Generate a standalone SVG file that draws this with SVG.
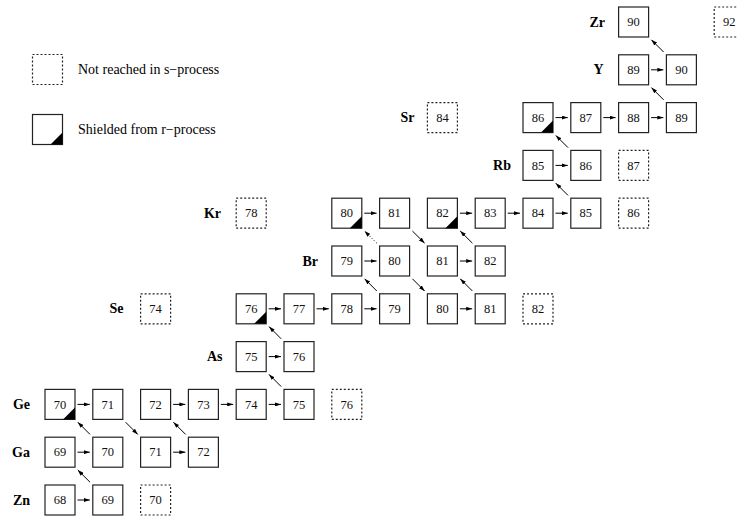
<svg xmlns="http://www.w3.org/2000/svg" width="737" height="519" viewBox="0 0 737 519">
<style>
.b{fill:#fff;stroke:#222;stroke-width:1.2}
.d{fill:#fff;stroke:#222;stroke-width:1.2;stroke-dasharray:2,2}
.n{font-family:"Liberation Serif","Times New Roman",serif;font-size:12.5px;text-anchor:middle;fill:#111}
.l{font-family:"Liberation Serif","Times New Roman",serif;font-size:14px;font-weight:bold;text-anchor:end;fill:#000}
.t{font-family:"Liberation Serif","Times New Roman",serif;font-size:14px;fill:#000}
.s{fill:#000}
.c line{stroke:#000;stroke-width:1;marker-end:url(#ah)}
.c line.dot{stroke-dasharray:1,2}
</style>
<defs>
<marker id="ah" viewBox="0 0 6 4" refX="6" refY="2" markerWidth="6" markerHeight="4" markerUnits="userSpaceOnUse" orient="auto"><path d="M0,0 L6,2 L0,4 Z" fill="#000"/></marker>
<g id="box"><rect class="b" x="0" y="0" width="30" height="30"/></g>
<g id="dbox"><rect class="d" x="0" y="0" width="30" height="30"/></g>
<g id="sbox"><rect class="b" x="0" y="0" width="30" height="30"/><path class="s" d="M30,18 L30,30 L18,30 Z"/></g>
</defs>

<g id="legend">
<rect class="d" x="32.5" y="54.5" width="30" height="30"/>
<text class="t" x="78" y="73.5">Not reached in s−process</text>
<rect class="b" x="32.5" y="114.5" width="30" height="30"/>
<path class="s" d="M62.5,132.5 L62.5,144.5 L50.5,144.5 Z"/>
<text class="t" x="78" y="133.5">Shielded from r−process</text>
</g>

<g id="labels">
<text class="l" x="30" y="504.5">Zn</text>
<text class="l" x="30" y="456.7">Ga</text>
<text class="l" x="30" y="408.9">Ge</text>
<text class="l" x="222.5" y="361.1">As</text>
<text class="l" x="123.5" y="313.3">Se</text>
<text class="l" x="318" y="265.5">Br</text>
<text class="l" x="221" y="217.7">Kr</text>
<text class="l" x="511" y="169.9">Rb</text>
<text class="l" x="414.5" y="122.1">Sr</text>
<text class="l" x="603.5" y="74.3">Y</text>
<text class="l" x="605" y="26.5">Zr</text>
</g>

<g id="connectors" class="c">
<line x1="77.5" y1="500" x2="89.8" y2="500"/>
<line x1="77.5" y1="452.2" x2="89.8" y2="452.2"/>
<line x1="173.1" y1="452.2" x2="185.4" y2="452.2"/>
<line x1="77.5" y1="404.4" x2="89.8" y2="404.4"/>
<line x1="173.1" y1="404.4" x2="185.4" y2="404.4"/>
<line x1="220.9" y1="404.4" x2="233.2" y2="404.4"/>
<line x1="268.7" y1="404.4" x2="281" y2="404.4"/>
<line x1="268.7" y1="356.6" x2="281" y2="356.6"/>
<line x1="268.7" y1="308.8" x2="281" y2="308.8"/>
<line x1="316.5" y1="308.8" x2="328.8" y2="308.8"/>
<line x1="364.3" y1="308.8" x2="376.6" y2="308.8"/>
<line x1="459.9" y1="308.8" x2="472.2" y2="308.8"/>
<line x1="364.3" y1="261" x2="376.6" y2="261"/>
<line x1="459.9" y1="261" x2="472.2" y2="261"/>
<line x1="364.3" y1="213.2" x2="376.6" y2="213.2"/>
<line x1="459.9" y1="213.2" x2="472.2" y2="213.2"/>
<line x1="507.7" y1="213.2" x2="520" y2="213.2"/>
<line x1="555.5" y1="213.2" x2="567.8" y2="213.2"/>
<line x1="555.5" y1="165.4" x2="567.8" y2="165.4"/>
<line x1="555.5" y1="117.6" x2="567.8" y2="117.6"/>
<line x1="603.3" y1="117.6" x2="615.6" y2="117.6"/>
<line x1="651.1" y1="117.6" x2="663.4" y2="117.6"/>
<line x1="651.1" y1="69.8" x2="663.4" y2="69.8"/>
<line x1="90" y1="482.2" x2="77.8" y2="470"/>
<line x1="90" y1="434.4" x2="77.8" y2="422.2"/>
<line x1="185.6" y1="434.4" x2="173.4" y2="422.2"/>
<line x1="281.2" y1="386.6" x2="269" y2="374.4"/>
<line x1="281.2" y1="338.8" x2="269" y2="326.6"/>
<line x1="376.8" y1="291" x2="364.6" y2="278.8"/>
<line x1="472.4" y1="291" x2="460.2" y2="278.8"/>
<line class="dot" x1="376.8" y1="243.2" x2="364.6" y2="231"/>
<line x1="472.4" y1="243.2" x2="460.2" y2="231"/>
<line x1="568" y1="195.4" x2="555.8" y2="183.2"/>
<line x1="568" y1="147.6" x2="555.8" y2="135.4"/>
<line x1="663.6" y1="99.8" x2="651.4" y2="87.6"/>
<line x1="663.6" y1="52" x2="651.4" y2="39.8"/>
<line x1="125.6" y1="422.2" x2="137.8" y2="434.4"/>
<line x1="412.4" y1="278.8" x2="424.6" y2="291"/>
<line x1="412.4" y1="231" x2="424.6" y2="243.2"/>
</g>

<g id="Zn68" transform="translate(45,485)"><use href="#box"/><text class="n" x="15" y="19.3">68</text></g>
<g id="Zn69" transform="translate(92.8,485)"><use href="#box"/><text class="n" x="15" y="19.3">69</text></g>
<g id="Zn70" transform="translate(140.6,485)"><use href="#dbox"/><text class="n" x="15" y="19.3">70</text></g>

<g id="Ga69" transform="translate(45,437.2)"><use href="#box"/><text class="n" x="15" y="19.3">69</text></g>
<g id="Ga70" transform="translate(92.8,437.2)"><use href="#box"/><text class="n" x="15" y="19.3">70</text></g>
<g id="Ga71" transform="translate(140.6,437.2)"><use href="#box"/><text class="n" x="15" y="19.3">71</text></g>
<g id="Ga72" transform="translate(188.4,437.2)"><use href="#box"/><text class="n" x="15" y="19.3">72</text></g>

<g id="Ge70" transform="translate(45,389.4)"><use href="#sbox"/><text class="n" x="15" y="19.3">70</text></g>
<g id="Ge71" transform="translate(92.8,389.4)"><use href="#box"/><text class="n" x="15" y="19.3">71</text></g>
<g id="Ge72" transform="translate(140.6,389.4)"><use href="#box"/><text class="n" x="15" y="19.3">72</text></g>
<g id="Ge73" transform="translate(188.4,389.4)"><use href="#box"/><text class="n" x="15" y="19.3">73</text></g>
<g id="Ge74" transform="translate(236.2,389.4)"><use href="#box"/><text class="n" x="15" y="19.3">74</text></g>
<g id="Ge75" transform="translate(284,389.4)"><use href="#box"/><text class="n" x="15" y="19.3">75</text></g>
<g id="Ge76" transform="translate(331.8,389.4)"><use href="#dbox"/><text class="n" x="15" y="19.3">76</text></g>

<g id="As75" transform="translate(236.2,341.6)"><use href="#box"/><text class="n" x="15" y="19.3">75</text></g>
<g id="As76" transform="translate(284,341.6)"><use href="#box"/><text class="n" x="15" y="19.3">76</text></g>

<g id="Se74" transform="translate(140.6,293.8)"><use href="#dbox"/><text class="n" x="15" y="19.3">74</text></g>
<g id="Se76" transform="translate(236.2,293.8)"><use href="#sbox"/><text class="n" x="15" y="19.3">76</text></g>
<g id="Se77" transform="translate(284,293.8)"><use href="#box"/><text class="n" x="15" y="19.3">77</text></g>
<g id="Se78" transform="translate(331.8,293.8)"><use href="#box"/><text class="n" x="15" y="19.3">78</text></g>
<g id="Se79" transform="translate(379.6,293.8)"><use href="#box"/><text class="n" x="15" y="19.3">79</text></g>
<g id="Se80" transform="translate(427.4,293.8)"><use href="#box"/><text class="n" x="15" y="19.3">80</text></g>
<g id="Se81" transform="translate(475.2,293.8)"><use href="#box"/><text class="n" x="15" y="19.3">81</text></g>
<g id="Se82" transform="translate(523,293.8)"><use href="#dbox"/><text class="n" x="15" y="19.3">82</text></g>

<g id="Br79" transform="translate(331.8,246)"><use href="#box"/><text class="n" x="15" y="19.3">79</text></g>
<g id="Br80" transform="translate(379.6,246)"><use href="#box"/><text class="n" x="15" y="19.3">80</text></g>
<g id="Br81" transform="translate(427.4,246)"><use href="#box"/><text class="n" x="15" y="19.3">81</text></g>
<g id="Br82" transform="translate(475.2,246)"><use href="#box"/><text class="n" x="15" y="19.3">82</text></g>

<g id="Kr78" transform="translate(236.2,198.2)"><use href="#dbox"/><text class="n" x="15" y="19.3">78</text></g>
<g id="Kr80" transform="translate(331.8,198.2)"><use href="#sbox"/><text class="n" x="15" y="19.3">80</text></g>
<g id="Kr81" transform="translate(379.6,198.2)"><use href="#box"/><text class="n" x="15" y="19.3">81</text></g>
<g id="Kr82" transform="translate(427.4,198.2)"><use href="#sbox"/><text class="n" x="15" y="19.3">82</text></g>
<g id="Kr83" transform="translate(475.2,198.2)"><use href="#box"/><text class="n" x="15" y="19.3">83</text></g>
<g id="Kr84" transform="translate(523,198.2)"><use href="#box"/><text class="n" x="15" y="19.3">84</text></g>
<g id="Kr85" transform="translate(570.8,198.2)"><use href="#box"/><text class="n" x="15" y="19.3">85</text></g>
<g id="Kr86" transform="translate(618.6,198.2)"><use href="#dbox"/><text class="n" x="15" y="19.3">86</text></g>

<g id="Rb85" transform="translate(523,150.4)"><use href="#box"/><text class="n" x="15" y="19.3">85</text></g>
<g id="Rb86" transform="translate(570.8,150.4)"><use href="#box"/><text class="n" x="15" y="19.3">86</text></g>
<g id="Rb87" transform="translate(618.6,150.4)"><use href="#dbox"/><text class="n" x="15" y="19.3">87</text></g>

<g id="Sr84" transform="translate(427.4,102.6)"><use href="#dbox"/><text class="n" x="15" y="19.3">84</text></g>
<g id="Sr86" transform="translate(523,102.6)"><use href="#sbox"/><text class="n" x="15" y="19.3">86</text></g>
<g id="Sr87" transform="translate(570.8,102.6)"><use href="#box"/><text class="n" x="15" y="19.3">87</text></g>
<g id="Sr88" transform="translate(618.6,102.6)"><use href="#box"/><text class="n" x="15" y="19.3">88</text></g>
<g id="Sr89" transform="translate(666.4,102.6)"><use href="#box"/><text class="n" x="15" y="19.3">89</text></g>

<g id="Y89" transform="translate(618.6,54.8)"><use href="#box"/><text class="n" x="15" y="19.3">89</text></g>
<g id="Y90" transform="translate(666.4,54.8)"><use href="#box"/><text class="n" x="15" y="19.3">90</text></g>

<g id="Zr90" transform="translate(618.6,7)"><use href="#box"/><text class="n" x="15" y="19.3">90</text></g>
<g id="Zr92" transform="translate(714.2,7)"><use href="#dbox"/><text class="n" x="15" y="19.3">92</text></g>
</svg>
